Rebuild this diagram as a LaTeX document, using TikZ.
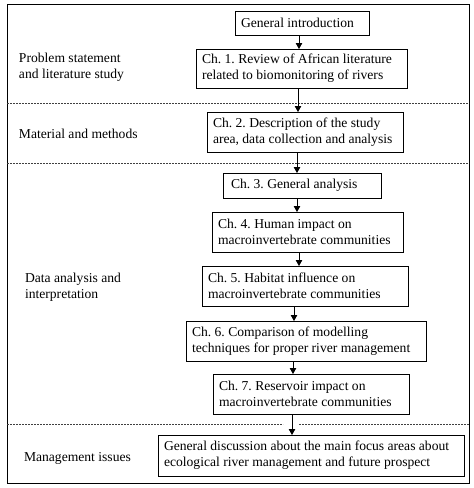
\documentclass[tikz,border=0pt]{standalone}
\usepackage{fontspec}
\setmainfont{Liberation Serif}
\usetikzlibrary{arrows.meta}
\begin{document}
\begin{tikzpicture}[x=1pt,y=-1pt,
  every node/.style={font=\fontsize{13.6}{16.3}\selectfont\frenchspacing},
  box/.style={draw, line width=0.8pt, outer sep=0pt, inner xsep=6pt, inner ysep=0pt, align=flush left, anchor=north west},
  lbl/.style={inner sep=0pt, outer sep=0pt, align=left, anchor=west},
  arr/.style={line width=0.8pt, -{Triangle[width=6.5pt,length=6pt]}},
  sep/.style={line width=0.6pt, dash pattern=on 2pt off 1pt, black!75}]
\useasboundingbox (0,0) rectangle (474,488);
\fill[white] (0,0) rectangle (474,488);
\draw[line width=0.8pt] (7,4) rectangle (469,483);
% separators
\draw[sep] (7,103) -- (469,103);
\draw[sep] (7,163) -- (469,163);
\draw[sep] (7,424) -- (283,424);
\draw[sep] (299,424) -- (469,424);
% boxes
\node[box, text width=122pt, minimum height=24pt] (gi) at (235,11) {General introduction};
\node[box, text width=199pt, minimum height=39pt] (c1) at (196,49) {Ch. 1. Review of African literature\\related to biomonitoring of rivers};
\node[box, text width=184pt, minimum height=40pt] (c2) at (207,112) {Ch. 2. Description of the study\\area, data collection and analysis};
\node[box, text width=146pt, minimum height=25pt] (c3) at (223,173) {\hspace*{2pt}Ch. 3. General analysis};
\node[box, text width=179pt, minimum height=40pt] (c4) at (212,212) {Ch. 4. Human impact on\\macroinvertebrate communities};
\node[box, text width=194pt, minimum height=40pt] (c5) at (202,266) {Ch. 5. Habitat influence on\\macroinvertebrate communities};
\node[box, text width=228pt, minimum height=40pt] (c6) at (186,321) {Ch. 6. Comparison of modelling\\techniques for proper river management};
\node[box, text width=184pt, minimum height=40pt] (c7) at (213,374) {Ch. 7. Reservoir impact on\\macroinvertebrate communities};
\node[box, text width=294pt, minimum height=41pt] (fin) at (158,435) {General discussion about the main focus areas about\\ecological river management and future prospect};
% labels
\node[lbl] (l1) at (19,67) {Problem statement\\and literature study};
\node[lbl] (l2) at (19,134) {Material and methods};
\node[lbl] (l3) at (25,287) {Data analysis and\\interpretation};
\node[lbl] (l4) at (24,458) {Management issues};
% arrow columns
\coordinate (x1) at (299,0);
\coordinate (x2) at (298,0);
\coordinate (x3) at (297,0);
\coordinate (x4) at (297,0);
\coordinate (x5) at (299,0);
\coordinate (x6) at (294,0);
\coordinate (x7) at (293,0);
\coordinate (x8) at (292,0);
\draw[arr] (gi.south -| x1) -- (c1.north -| x1);
\draw[arr] (c1.south -| x2) -- (c2.north -| x2);
\draw[arr] (c2.south -| x3) -- (c3.north -| x3);
\draw[arr] (c3.south -| x4) -- (c4.north -| x4);
\draw[arr] (c4.south -| x5) -- (c5.north -| x5);
\draw[arr] (c5.south -| x6) -- (c6.north -| x6);
\draw[arr] (c6.south -| x7) -- (c7.north -| x7);
\draw[arr] (c7.south -| x8) -- (fin.north -| x8);
\end{tikzpicture}
\end{document}
